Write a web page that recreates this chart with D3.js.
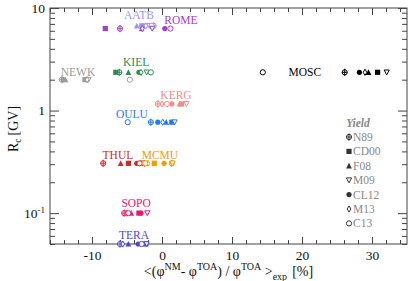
<!DOCTYPE html>
<html><head><meta charset="utf-8">
<script src="https://cdn.jsdelivr.net/npm/d3@7"></script>
<style>
html,body{margin:0;padding:0;background:#fff;}
text{font-family:"Liberation Serif","DejaVu Serif",serif;}
</style>
</head><body>
<svg id="c" width="415" height="281"></svg>
<script>
// ---------- data ----------
const yields = ["N89","CD00","F08","M09","CL12","M13","C13"];
const stations = ["AATB","ROME","NEWK","KIEL","MOSC","KERG","OULU","THUL","MCMU","SOPO","TERA"];
const cutoffRigidity = [6.7, 6.3, 2.0, 2.36, 2.36, 1.16, 0.77, 0.306, 0.306, 0.1, 0.05];
// mean relative deviation [%] per station, ordered as yields
const devAATB = [-1.2, -2.9, -3.6, -1.8, -2.6, -2.3, -1.5];
const devROME = [-6.0, -8.1, -2.9, -1.4, 0.4, -2.8, 1.2];
const devNEWK = [-14.3, -11.0, -13.8, -10.5, -14.1, -10.7, -4.6];
const devKIEL = [-6.1, -6.6, -4.8, -2.2, -3.3, -3.0, -1.6];
const devMOSC = [26.1, 30.8, 29.5, 32.1, 28.2, 29.0, 14.4];
const devKERG = [-0.6, 2.8, 2.5, 3.5, 1.4, 0.0, 0.7];
const devOULU = [-1.6, 1.4, 0.6, 1.8, -0.6, 0.1, -4.9];
const devTHUL = [-8.4, -4.8, -5.9, -2.8, -3.6, -2.5, -3.2];
const devMCMU = [1.4, -1.1, -2.2, 1.5, 0.3, -2.0, -2.4];
const devSOPO = [-5.4, -3.3, -4.4, -2.1, -3.0, -5.0, -4.8];
const devTERA = [-6.0, -2.3, -4.8, -2.2, -3.4, -5.6, -2.9];
const deviations = [devAATB, devROME, devNEWK, devKIEL, devMOSC, devKERG, devOULU, devTHUL, devMCMU, devSOPO, devTERA];
const xTickValues = [-10, 0, 10, 20, 30];
const yTickValues = [0.1, 1, 10];

// ---------- styles / layout ----------
const colors = {AATB:"#9c96f2", ROME:"#a23cd2", NEWK:"#9a9a9a", KIEL:"#2e8b57", MOSC:"#000000",
  KERG:"#f48a8a", OULU:"#1f78ff", THUL:"#cc2a2a", MCMU:"#f59a00", SOPO:"#f0146c", TERA:"#4a48d6"};
// label anchor: x in data units, dy in px from marker row (baseline)
const labelPos = {AATB:[-3.3,-7], ROME:[2.7,-4.5], NEWK:[-12,-4], KIEL:[-3.7,-6], MOSC:[20.4,4],
  KERG:[2,-5], OULU:[-4.3,-4], THUL:[-6.3,-4], MCMU:[-0.3,-4], SOPO:[-3.7,-6], TERA:[-4,-5]};

const W=415,H=281;
const L=50,R=407,T=8,B=244;
const svg=d3.select("#c");
const x=d3.scaleLinear().domain([-16,35]).range([L,R]);
const y=d3.scaleLog().domain([0.05,10]).range([B,T]);
const axisColor="#444";

// frame
svg.append("rect").attr("x",L).attr("y",T).attr("width",R-L).attr("height",B-T)
  .attr("fill","none").attr("stroke",axisColor).attr("stroke-width",1);

// x ticks
const xMinor=d3.range(-16,35.01,2).filter(v=>v%10!==0);
function xAxisG(pos, sign, vals, len, labels){
  const ax=(sign>0?d3.axisBottom(x):d3.axisTop(x)).tickValues(vals).tickSize(-len).tickSizeOuter(0)
    .tickFormat(labels?d3.format("d"):"");
  const g=svg.append("g").attr("transform",`translate(0,${pos})`).call(ax);
  g.select(".domain").remove();
  g.selectAll("line").attr("stroke",axisColor);
  g.selectAll("text").attr("font-size",13.5).attr("fill","#111").attr("dy", sign>0?"0.95em":null)
   .text(d=>labels?(d<0?"-"+Math.abs(d):d):"");
  return g;
}
xAxisG(B,1,xTickValues,7,true);
xAxisG(B,1,xMinor,4,false);
xAxisG(T,-1,xTickValues,7,false);
xAxisG(T,-1,xMinor,4,false);

// y ticks
const yMinor=[];
[0.01,0.1,1].forEach(d=>{for(let k=2;k<=9;k++){const v=d*k; if(v>=0.05&&v<=10) yMinor.push(v);}});
function yAxisG(pos, sign, vals, len){
  const ax=(sign>0?d3.axisLeft(y):d3.axisRight(y)).tickValues(vals).tickSize(-len).tickSizeOuter(0).tickFormat("");
  const g=svg.append("g").attr("transform",`translate(${pos},0)`).call(ax);
  g.select(".domain").remove();
  g.selectAll("line").attr("stroke",axisColor);
  return g;
}
yAxisG(L,1,yTickValues,9);
yAxisG(L,1,yMinor,5);
yAxisG(R,-1,yTickValues,9);
yAxisG(R,-1,yMinor,5);
// y tick labels
yTickValues.forEach(v=>{
  const t=svg.append("text").attr("x",L-5).attr("y",y(v)+4.5).attr("text-anchor","end").attr("font-size",13.5).attr("fill","#111");
  if(v===0.1){ t.append("tspan").text("10"); t.append("tspan").attr("font-size",9).attr("dy",-5).text("-1"); }
  else t.text(String(v));
});

// axis titles
const xt=svg.append("text").attr("x",(L+R)/2).attr("y",276).attr("text-anchor","middle").attr("font-size",14).attr("fill","#111");
xt.append("tspan").text("<(\u03c6");
xt.append("tspan").attr("font-size",10).attr("dy",-6).text("NM");
xt.append("tspan").attr("dy",6).text("- \u03c6");
xt.append("tspan").attr("font-size",10).attr("dy",-6).text("TOA");
xt.append("tspan").attr("dy",6).text(") / \u03c6");
xt.append("tspan").attr("font-size",10).attr("dy",-6).text("TOA");
xt.append("tspan").attr("dy",6).text(" >");
xt.append("tspan").attr("font-size",10).attr("dy",4).text("exp");
xt.append("tspan").attr("dy",-4).attr("dx",5).text("[%]");

const yt=svg.append("text").attr("transform",`translate(18,${(T+B)/2+3}) rotate(-90)`).attr("text-anchor","middle").attr("font-size",14).attr("fill","#111");
yt.append("tspan").text("R");
yt.append("tspan").attr("font-size",9.5).attr("dy",3).text("c");
yt.append("tspan").attr("dy",-3).attr("dx",3).text("[GV]");

// symbols
function drawSymbol(g, type, cx, cy, col){
  const s=2.6;
  if(type==="N89"){
    g.append("circle").attr("cx",cx).attr("cy",cy).attr("r",s).attr("fill","#fff").attr("stroke",col).attr("stroke-width",1);
    g.append("path").attr("d",`M${cx-s},${cy}H${cx+s}M${cx},${cy-s-1}V${cy+s+1}`).attr("stroke",col).attr("stroke-width",1);
  } else if(type==="CD00"){
    g.append("rect").attr("x",cx-s).attr("y",cy-s).attr("width",2*s).attr("height",2*s).attr("fill",col);
  } else if(type==="F08"){
    g.append("path").attr("d",`M${cx},${cy-s-0.5}L${cx+s+0.3},${cy+s}L${cx-s-0.3},${cy+s}Z`).attr("fill",col);
  } else if(type==="M09"){
    g.append("path").attr("d",`M${cx-s},${cy-s+0.3}L${cx+s},${cy-s+0.3}L${cx},${cy+s}Z`).attr("fill","#fff").attr("stroke",col).attr("stroke-width",1);
  } else if(type==="CL12"){
    g.append("circle").attr("cx",cx).attr("cy",cy).attr("r",s).attr("fill",col);
  } else if(type==="M13"){
    g.append("path").attr("d",`M${cx},${cy-s-0.5}L${cx+1.8},${cy}L${cx},${cy+s+0.5}L${cx-1.8},${cy}Z`).attr("fill","#fff").attr("stroke",col).attr("stroke-width",1);
  } else if(type==="C13"){
    g.append("circle").attr("cx",cx).attr("cy",cy).attr("r",s).attr("fill","#fff").attr("stroke",col).attr("stroke-width",1);
  }
}

const gm=svg.append("g");
stations.forEach((st,i)=>{
  const col=colors[st];
  const yy=y(cutoffRigidity[i]);
  deviations[i].forEach((d,j)=>drawSymbol(gm,yields[j],x(d),yy,col));
  const lp=labelPos[st];
  svg.append("text").attr("x",x(lp[0])).attr("y",yy+lp[1]).attr("text-anchor","middle")
    .attr("font-size",11.5).attr("fill",col).text(st);
});

// legend
const lg=svg.append("g");
lg.append("text").attr("x",358).attr("y",127).attr("text-anchor","middle").attr("font-size",11.5)
  .attr("font-style","italic").attr("font-weight","bold").attr("fill","#888").text("Yield");
yields.forEach((yl,j)=>{
  const ly=137+j*14.4;
  drawSymbol(lg,yl,349,ly,"#333");
  lg.append("text").attr("x",353).attr("y",ly+4).attr("font-size",11.5).attr("fill","#888").text(yl);
});
</script>
</body></html>
